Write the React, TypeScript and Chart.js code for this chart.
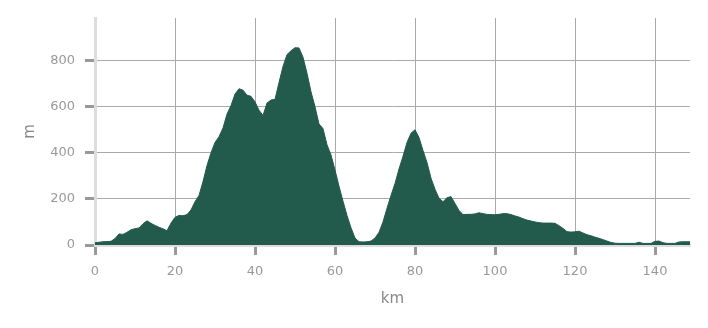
import React, { useEffect, useRef } from "react";
import { Chart, registerables } from "chart.js";

Chart.register(...registerables);

const distanceKm: number[] = [
  0, 1, 2, 3, 4, 5, 6, 7, 8, 9,
  10, 11, 12, 13, 14, 15, 16, 17, 18, 19,
  20, 21, 22, 23, 24, 25, 26, 27, 28, 29,
  30, 31, 32, 33, 34, 35, 36, 37, 38, 39,
  40, 41, 42, 43, 44, 45, 46, 47, 48, 49,
  50, 51, 52, 53, 54, 55, 56, 57, 58, 59,
  60, 61, 62, 63, 64, 65, 66, 67, 68, 69,
  70, 71, 72, 73, 74, 75, 76, 77, 78, 79,
  80, 81, 82, 83, 84, 85, 86, 87, 88, 89,
  90, 91, 92, 93, 94, 95, 96, 97, 98, 99,
  100, 101, 102, 103, 104, 105, 106, 107, 108, 109,
  110, 111, 112, 113, 114, 115, 116, 117, 118, 119,
  120, 121, 122, 123, 124, 125, 126, 127, 128, 129,
  130, 131, 132, 133, 134, 135, 136, 137, 138, 139,
  140, 141, 142, 143, 144, 145, 146, 147, 148, 148.75,
];

const elevationM: number[] = [
  10, 12, 14, 15, 16, 28, 48, 46, 55, 66,
  71, 74, 92, 105, 94, 85, 77, 70, 62, 95,
  120, 128, 127, 132, 152, 188, 215, 275, 345, 400,
  445, 470, 508, 568, 605, 655, 678, 672, 650, 645,
  621, 585, 562, 616, 629, 632, 705, 775, 826, 843,
  856, 855, 815, 745, 665, 600, 525, 505, 435, 390,
  325, 255, 190, 128, 75, 30, 14, 13, 14, 17,
  30, 55, 100, 160, 215, 267, 330, 385, 445, 485,
  500, 466, 410, 358, 290, 242, 203, 188, 205, 210,
  180, 150, 132, 133, 133, 135, 140, 136, 133, 132,
  131, 133, 136, 136, 132, 126, 121, 114, 108, 104,
  100, 97, 95, 95, 95, 94, 84, 72, 58, 56,
  57, 60, 52, 45, 40, 34, 29, 23, 17, 11,
  8, 7, 7, 7, 7, 7, 12, 7, 7, 7,
  16, 17, 10, 7, 7, 7, 13, 14, 14, 14,
];

const xTickValues: number[] = [0, 20, 40, 60, 80, 100, 120, 140];
const yTickValues: number[] = [0, 200, 400, 600, 800];
const xTitle = "km";
const yTitle = "m";

export default function App() {
  const canvasRef = useRef<HTMLCanvasElement | null>(null);

  useEffect(() => {
    if (!canvasRef.current) return;
    Chart.defaults.font.family = "'DejaVu Sans', sans-serif";
    const points = distanceKm.map((x, i) => ({ x, y: elevationM[i] }));
    const tickFont = { size: 13, family: "'DejaVu Sans', sans-serif" };
    const titleFont = { size: 15, family: "'DejaVu Sans', sans-serif" };
    const chart = new Chart(canvasRef.current, {
      type: "line",
      data: {
        datasets: [
          {
            data: points,
            fill: "origin",
            backgroundColor: "#225a4c",
            borderColor: "#225a4c",
            borderWidth: 1,
            pointRadius: 0,
            tension: 0,
          },
        ],
      },
      options: {
        animation: false,
        responsive: true,
        maintainAspectRatio: false,
        layout: { padding: { left: 0, top: 18, right: 18, bottom: 0 } },
        plugins: { legend: { display: false }, tooltip: { enabled: false } },
        scales: {
          x: {
            type: "linear",
            min: 0,
            max: 148.75,
            afterFit: (s: any) => {
              s.height = 83;
            },
            afterBuildTicks: (s: any) => {
              s.ticks = xTickValues.map((v) => ({ value: v }));
            },
            ticks: {
              color: "#999",
              font: tickFont,
              padding: 9,
              maxRotation: 0,
              autoSkip: false,
            },
            grid: {
              color: "#aaaaaa",
              lineWidth: 1,
              tickColor: "#999",
              tickWidth: 3,
              tickLength: 10,
            },
            border: { color: "#dddddd", width: 3 },
            title: {
              display: true,
              text: xTitle,
              color: "#888",
              font: titleFont,
              padding: { top: 0, bottom: 20 },
            },
          },
          y: {
            type: "linear",
            min: 0,
            max: 985,
            afterFit: (s: any) => {
              s.width = 95;
            },
            afterBuildTicks: (s: any) => {
              s.ticks = yTickValues.map((v) => ({ value: v }));
            },
            ticks: {
              color: "#999",
              font: tickFont,
              padding: 10,
              autoSkip: false,
            },
            grid: {
              color: "#aaaaaa",
              lineWidth: 1,
              tickColor: "#999",
              tickWidth: 3,
              tickLength: 10,
            },
            border: { color: "#dddddd", width: 3 },
            title: {
              display: true,
              text: yTitle,
              color: "#888",
              font: titleFont,
              padding: { top: 21, bottom: 0 },
            },
          },
        },
      },
    });
    return () => chart.destroy();
  }, []);

  return (
    <div style={{ position: "fixed", left: 0, top: 0, width: 708, height: 328, background: "#fff" }}>
      <canvas ref={canvasRef} />
    </div>
  );
}
